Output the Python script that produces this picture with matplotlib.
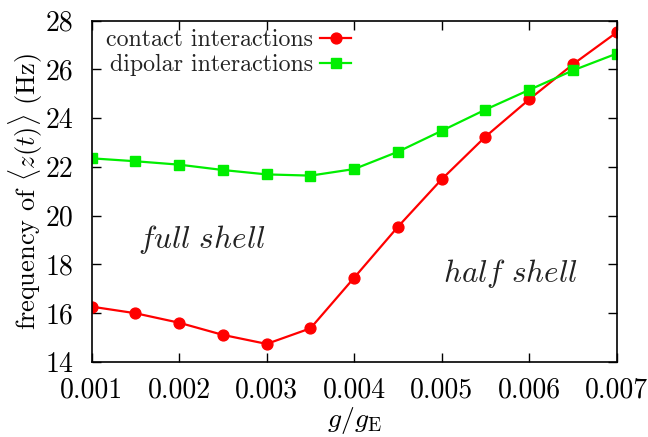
import matplotlib
matplotlib.use("Agg")
import matplotlib.pyplot as plt

g_ratio = [0.001, 0.0015, 0.002, 0.0025, 0.003, 0.0035, 0.004,
           0.0045, 0.005, 0.0055, 0.006, 0.0065, 0.007]
contact = [16.26, 15.99, 15.60, 15.10, 14.73, 15.37, 17.45,
           19.54, 21.49, 23.24, 24.77, 26.21, 27.52]
dipolar = [22.35, 22.23, 22.09, 21.87, 21.69, 21.64, 21.91,
           22.62, 23.48, 24.35, 25.16, 25.96, 26.65]
x_ticks = [0.001, 0.002, 0.003, 0.004, 0.005, 0.006, 0.007]
x_ticklabels = ["0.001", "0.002", "0.003", "0.004", "0.005", "0.006", "0.007"]
y_ticks = [14, 16, 18, 20, 22, 24, 26, 28]

plt.rcParams['font.family'] = ['cmr10', 'DejaVu Serif']
plt.rcParams['mathtext.fontset'] = 'cm'
plt.rcParams['axes.unicode_minus'] = False

fig = plt.figure(figsize=(6.48, 4.37), dpi=100)
ax = fig.add_axes([0.1415, 0.1723, 0.9517 - 0.1415, 0.9526 - 0.1723])

ax.plot(g_ratio, contact, color='#ff0000', lw=1.6, marker='o', ms=7.8,
        label='contact interactions')
ax.plot(g_ratio, dipolar, color='#00ee00', lw=1.6, marker='s', ms=7.2,
        label='dipolar interactions')

ax.set_xlim(0.001, 0.007)
ax.set_ylim(14, 28)
ax.set_xticks(x_ticks)
ax.set_xticklabels(x_ticklabels)
ax.set_yticks(y_ticks)
ax.set_yticklabels([str(v) for v in y_ticks])
ax.tick_params(direction='in', length=6.5, width=1.0, top=True, right=True,
               labelsize=20)
ax.tick_params(axis='x', pad=11)
ax.tick_params(axis='y', pad=13)
for s in ax.spines.values():
    s.set_linewidth(1.2)

ax.set_xlabel(r'$g/g_{\rm E}$', fontsize=20, labelpad=1.5)
ax.set_ylabel(r'frequency of $\langle z(t)\rangle$ (Hz)', fontsize=19, labelpad=0.5)

ax.text(0.00153, 19.0, r'$\mathit{full\ shell}$', fontsize=22.5, va='center', ha='left', color='#222222')
ax.text(0.005015, 17.64, r'$\mathit{half\ shell}$', fontsize=22.5, va='center', ha='left', color='#222222')

leg = ax.legend(loc='upper right', markerfirst=False, frameon=False, fontsize=17.2,
                handlelength=1.3, handletextpad=0.3, borderaxespad=0.0, borderpad=0.0,
                labelspacing=0.1, bbox_to_anchor=(0.494, 0.975))
for t in leg.get_texts():
    t.set_color('#222222')

fig.savefig('out.png', dpi=100)
